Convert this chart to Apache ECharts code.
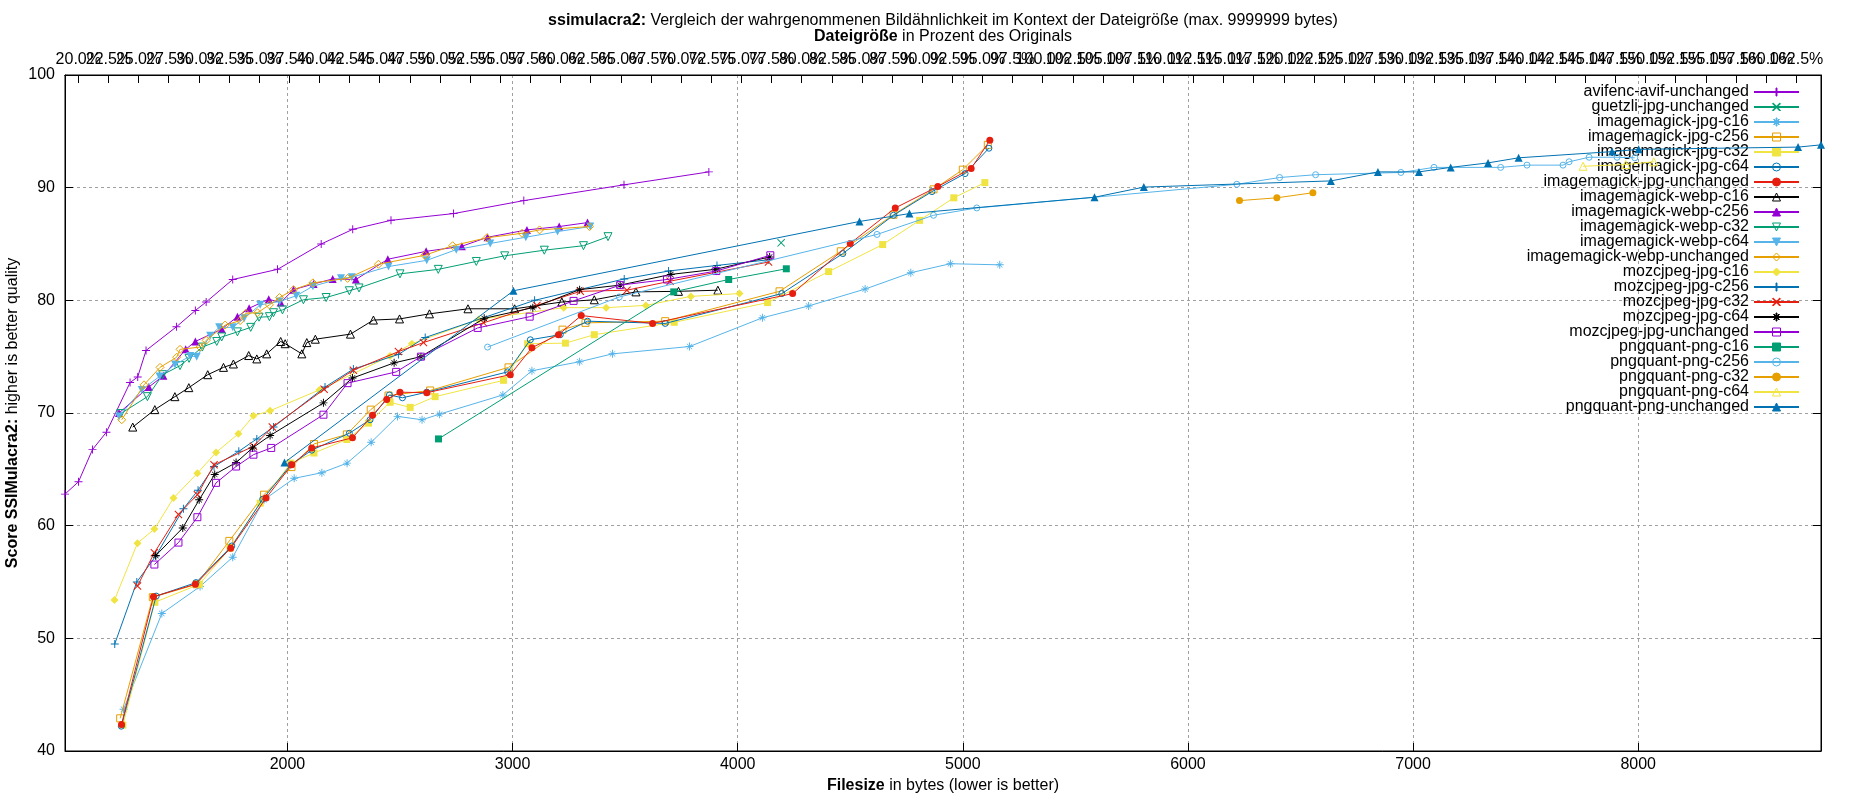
<!DOCTYPE html>
<html>
<head>
<meta charset="utf-8">
<title>ssimulacra2</title>
<script src="https://cdn.jsdelivr.net/npm/echarts@6/dist/echarts.min.js"></script>
<style>
html, body { margin: 0; padding: 0; background: #fff; }
#chart { width: 1850px; height: 800px; }
</style>
</head>
<body>
<div id="chart"></div>
<script>
// axis ranges (bytes) and size used for the percent axis on top
const xMin = 1012;
const xMax = 8812;
const originalSize = 5355;
const yMin = 40, yMax = 100;

const names = [
  'avifenc-avif-unchanged', 'guetzli-jpg-unchanged',
  'imagemagick-jpg-c16', 'imagemagick-jpg-c256', 'imagemagick-jpg-c32', 'imagemagick-jpg-c64', 'imagemagick-jpg-unchanged',
  'imagemagick-webp-c16', 'imagemagick-webp-c256', 'imagemagick-webp-c32', 'imagemagick-webp-c64', 'imagemagick-webp-unchanged',
  'mozcjpeg-jpg-c16', 'mozcjpeg-jpg-c256', 'mozcjpeg-jpg-c32', 'mozcjpeg-jpg-c64', 'mozcjpeg-jpg-unchanged',
  'pngquant-png-c16', 'pngquant-png-c256', 'pngquant-png-c32', 'pngquant-png-c64', 'pngquant-png-unchanged'
];

// filesize (bytes) / score per series
const avifX = [1012, 1072, 1134, 1196, 1301, 1335, 1372, 1507, 1591, 1639, 1757, 1956, 2150, 2290, 2460, 2738, 3050, 3495, 3872];
const avifY = [62.8, 63.9, 66.75, 68.3, 72.7, 73.2, 75.55, 77.65, 79.1, 79.85, 81.85, 82.75, 85.0, 86.3, 87.1, 87.7, 88.85, 90.25, 91.4];

const guetzliX = [4193];
const guetzliY = [85.1];

const jpgC16X = [1272, 1442, 1612, 1757, 1896, 2030, 2153, 2265, 2372, 2489, 2598, 2676, 2957, 3086, 3298, 3444, 3786, 4110, 4315, 4566, 4769, 4945, 5164];
const jpgC16Y = [43.7, 52.2, 54.6, 57.2, 62.3, 64.2, 64.7, 65.55, 67.4, 69.7, 69.4, 69.9, 71.6, 73.75, 74.55, 75.25, 75.9, 78.45, 79.5, 81.0, 82.45, 83.25, 83.15];

const jpgC256X = [1257, 1402, 1597, 1742, 1896, 2018, 2118, 2264, 2370, 2449, 2634, 2982, 3222, 3324, 3678, 4186, 4458, 4692, 4870, 5000, 5111];
const jpgC256Y = [42.9, 53.65, 54.8, 58.65, 62.75, 65.2, 67.25, 68.1, 70.3, 71.55, 72.0, 74.05, 77.4, 78.0, 78.15, 80.8, 84.35, 87.6, 89.85, 91.6, 93.8];

const jpgC32X = [1269, 1411, 1609, 1745, 1879, 2015, 2118, 2264, 2360, 2456, 2545, 2656, 2960, 3067, 3235, 3363, 3718, 4133, 4404, 4644, 4808, 4960, 5098];
const jpgC32Y = [42.3, 53.2, 54.8, 58.0, 62.0, 65.55, 66.45, 67.65, 69.1, 70.95, 70.5, 71.45, 72.9, 76.15, 76.2, 76.95, 78.05, 79.8, 82.55, 84.95, 87.1, 89.1, 90.45];

const jpgC64X = [1262, 1417, 1594, 1753, 1890, 2015, 2108, 2275, 2367, 2453, 2511, 2619, 2978, 3079, 3212, 3333, 3678, 4196, 4467, 4692, 4863, 5010, 5116];
const jpgC64Y = [42.2, 53.75, 54.95, 58.2, 62.35, 65.4, 66.7, 68.2, 69.4, 71.6, 71.35, 71.85, 73.65, 76.5, 76.95, 78.15, 77.95, 80.6, 84.15, 87.55, 89.65, 91.25, 93.5];

const jpgUnchX = [1263, 1405, 1591, 1748, 1905, 2019, 2108, 2289, 2378, 2441, 2500, 2619, 2990, 3086, 3204, 3305, 3622, 4244, 4500, 4700, 4889, 5037, 5120];
const jpgUnchY = [42.35, 53.7, 54.8, 58.0, 62.45, 65.4, 66.9, 67.8, 69.8, 71.2, 71.85, 71.8, 73.4, 75.8, 76.95, 78.65, 77.95, 80.6, 85.05, 88.2, 90.1, 91.7, 94.2];

const webpC16X = [1313, 1411, 1500, 1562, 1646, 1716, 1760, 1828, 1864, 1908, 1970, 1990, 2064, 2086, 2124, 2280, 2382, 2498, 2631, 2802, 3009, 3219, 3363, 3548, 3737, 3912];
const webpC16Y = [68.75, 70.3, 71.45, 72.25, 73.4, 74.05, 74.35, 75.1, 74.8, 75.25, 76.35, 76.15, 75.25, 76.25, 76.55, 77.0, 78.25, 78.35, 78.8, 79.25, 79.25, 79.85, 80.05, 80.75, 80.8, 80.9];

const webpC256X = [1252, 1384, 1449, 1548, 1591, 1708, 1778, 1830, 1917, 1970, 2027, 2116, 2201, 2304, 2446, 2616, 2775, 2889, 3064, 3207, 3333];
const webpC256Y = [70.0, 72.3, 73.3, 75.65, 76.35, 77.45, 78.55, 79.3, 80.1, 79.8, 80.95, 81.45, 81.9, 81.85, 83.65, 84.35, 84.8, 85.6, 86.25, 86.55, 86.9];

const webpC32X = [1260, 1378, 1446, 1523, 1563, 1622, 1686, 1708, 1778, 1837, 1874, 1920, 1938, 1978, 2071, 2172, 2275, 2318, 2500, 2670, 2839, 2965, 3141, 3315, 3424];
const webpC32Y = [69.95, 71.45, 73.4, 74.2, 74.85, 75.85, 76.35, 76.75, 77.2, 77.6, 78.5, 78.55, 78.9, 79.15, 80.05, 80.25, 80.85, 81.1, 82.35, 82.75, 83.45, 83.95, 84.45, 84.85, 85.65];

const webpC64X = [1252, 1353, 1432, 1501, 1568, 1597, 1657, 1697, 1757, 1808, 1879, 1965, 2039, 2113, 2238, 2286, 2449, 2619, 2750, 2901, 3059, 3200, 3345];
const webpC64Y = [69.7, 72.05, 73.25, 74.3, 75.05, 75.0, 76.85, 77.6, 77.6, 78.4, 79.6, 79.9, 80.4, 81.25, 81.95, 82.05, 83.0, 83.55, 84.5, 85.05, 85.6, 86.1, 86.55];

const webpUnchX = [1264, 1363, 1434, 1508, 1523, 1612, 1639, 1723, 1790, 1815, 1867, 1920, 1965, 2027, 2113, 2267, 2404, 2610, 2734, 2886, 3042, 3120, 3342];
const webpUnchY = [69.4, 72.5, 74.05, 74.95, 75.65, 75.85, 76.45, 77.8, 78.2, 78.85, 78.9, 79.6, 80.25, 80.95, 81.55, 81.95, 83.2, 84.0, 84.85, 85.55, 85.95, 86.25, 86.55];

const mozC16X = [1232, 1334, 1409, 1494, 1600, 1683, 1782, 1849, 1923, 2142, 2456, 2553, 2849, 3227, 3416, 3592, 3792, 4008];
const mozC16Y = [53.4, 58.45, 59.7, 62.45, 64.65, 66.5, 68.15, 69.75, 70.2, 72.05, 75.05, 76.15, 78.3, 79.35, 79.35, 79.55, 80.35, 80.6];

const mozC256X = [1233, 1331, 1415, 1538, 1603, 1674, 1784, 1864, 1938, 2167, 2293, 2493, 2612, 3098, 3496, 3693, 3908, 4137];
const mozC256Y = [49.5, 55.0, 57.3, 61.5, 63.15, 65.25, 66.6, 67.7, 68.75, 72.3, 73.9, 75.2, 76.7, 80.0, 81.9, 82.6, 83.1, 83.6];

const mozC32X = [1334, 1409, 1516, 1600, 1674, 1849, 1933, 2163, 2293, 2493, 2604, 2871, 3108, 3301, 3508, 3700, 4137];
const mozC32Y = [54.65, 57.6, 61.0, 62.75, 65.4, 67.05, 68.75, 72.1, 73.8, 75.45, 76.25, 78.0, 79.55, 80.8, 80.9, 81.7, 83.4];

const mozC64X = [1415, 1535, 1608, 1677, 1772, 1845, 1923, 2160, 2289, 2474, 2593, 2874, 3090, 3298, 3478, 3703, 3900, 4142];
const mozC64Y = [57.35, 59.8, 62.3, 64.55, 65.6, 66.9, 68.0, 70.9, 73.1, 74.45, 75.0, 78.4, 79.35, 80.95, 81.35, 82.3, 82.75, 83.85];

const mozUnchX = [1409, 1516, 1600, 1683, 1772, 1849, 1928, 2160, 2267, 2483, 2593, 2845, 3076, 3271, 3478, 3686, 3905, 4145];
const mozUnchY = [56.55, 58.5, 60.75, 63.8, 65.25, 66.3, 66.9, 69.85, 72.65, 73.65, 75.0, 77.55, 78.55, 79.95, 81.35, 81.85, 82.6, 84.0];

const pngC16X = [2671, 3716, 3960, 4216];
const pngC16Y = [67.7, 80.75, 81.85, 82.8];

const pngC256X = [2889, 3474, 4619, 4870, 5062, 6217, 6407, 6567, 6946, 7093, 7389, 7506, 7666, 7693, 7782, 7906, 7985];
const pngC256Y = [75.85, 80.3, 85.85, 87.55, 88.2, 90.3, 90.9, 91.15, 91.35, 91.8, 91.8, 92.0, 92.0, 92.3, 92.7, 92.7, 92.65];

const pngC32X = [6229, 6395, 6555];
const pngC32Y = [88.85, 89.1, 89.55];

const pngC64X = [7755, 7945, 8069];
const pngC64Y = [91.9, 92.05, 92.3];

const pngUnchX = [1987, 3004, 4541, 4763, 5585, 5804, 6635, 6844, 7026, 7167, 7333, 7469, 7884, 8002, 8710, 8812];
const pngUnchY = [65.6, 80.85, 87.0, 87.7, 89.15, 90.05, 90.6, 91.4, 91.4, 91.8, 92.2, 92.65, 93.2, 93.4, 93.6, 93.8];

const xs = [avifX, guetzliX, jpgC16X, jpgC256X, jpgC32X, jpgC64X, jpgUnchX, webpC16X, webpC256X, webpC32X, webpC64X, webpUnchX,
            mozC16X, mozC256X, mozC32X, mozC64X, mozUnchX, pngC16X, pngC256X, pngC32X, pngC64X, pngUnchX];
const ys = [avifY, guetzliY, jpgC16Y, jpgC256Y, jpgC32Y, jpgC64Y, jpgUnchY, webpC16Y, webpC256Y, webpC32Y, webpC64Y, webpUnchY,
            mozC16Y, mozC256Y, mozC32Y, mozC64Y, mozUnchY, pngC16Y, pngC256Y, pngC32Y, pngC64Y, pngUnchY];

// top axis tick labels, percent of original (every 2.5 %)
const pctTicks = [];
for (let p = 20; p <= 162.5; p += 2.5) pctTicks.push(p);
// split in two sets so echarts does not drop overlapping labels
const pctTicksA = pctTicks.filter((p, i) => i % 2 === 0);
const pctTicksB = pctTicks.filter((p, i) => i % 2 === 1);

// gnuplot-like line types
const colors = ['#9400d3', '#009e73', '#56b4e9', '#e69f00', '#f0e442', '#0072b2', '#e51e10', '#000000'];
const pointTypes = ['plus', 'cross', 'star', 'openSquare', 'square', 'openCircle', 'circle', 'openTriangle',
                    'triangle', 'openTriangleDown', 'triangleDown', 'openDiamond', 'diamond'];

const PLUS = 'path://M4.4,0H5.6V4.4H10V5.6H5.6V10H4.4V5.6H0V4.4H4.4Z';
const CROSS = 'path://M0.6,1.4L1.4,0.6L9.4,8.6L8.6,9.4ZM8.6,0.6L9.4,1.4L1.4,9.4L0.6,8.6Z';
const STAR = 'path://M4.4,0H5.6V4.4H10V5.6H5.6V10H4.4V5.6H0V4.4H4.4Z' +
  'M1.3,1.9L1.9,1.3L8.7,8.1L8.1,8.7ZM8.1,1.3L8.7,1.9L1.9,8.7L1.3,8.1Z';

const markers = {
  plus: { symbol: PLUS, size: 8 },
  cross: { symbol: CROSS, size: 8 },
  star: { symbol: STAR, size: 8 },
  openSquare: { symbol: 'rect', size: 7, open: true },
  square: { symbol: 'rect', size: 7 },
  openCircle: { symbol: 'circle', size: 6, open: true },
  circle: { symbol: 'circle', size: 7 },
  openTriangle: { symbol: 'triangle', size: 8, open: true },
  triangle: { symbol: 'triangle', size: 8 },
  openTriangleDown: { symbol: 'triangle', size: 8, open: true, rotate: 180 },
  triangleDown: { symbol: 'triangle', size: 8, rotate: 180 },
  openDiamond: { symbol: 'diamond', size: 8, open: true },
  diamond: { symbol: 'diamond', size: 8 }
};

const font = 'Liberation Sans, Arial, sans-serif';

const series = names.map((name, i) => {
  const color = colors[i % colors.length];
  const mk = markers[pointTypes[i % pointTypes.length]];
  return {
    name: name,
    type: 'line',
    data: xs[i].map((x, j) => [x, ys[i][j]]),
    symbol: mk.symbol,
    symbolSize: mk.size,
    symbolRotate: mk.rotate || 0,
    lineStyle: { color: color, width: 1 },
    itemStyle: mk.open
      ? { color: 'rgba(0,0,0,0)', borderColor: color, borderWidth: 1 }
      : { color: color, borderColor: color, borderWidth: 0 },
    emphasis: { disabled: true },
    z: 2 + i
  };
});

const chart = echarts.init(document.getElementById('chart'), null, { renderer: 'canvas' });

const axisLine = { show: true, onZero: false, lineStyle: { color: '#000', width: 1 } };
const tick = { show: true, inside: true, length: 8, lineStyle: { color: '#000', width: 1 } };
const grid = { show: true, lineStyle: { color: '#a0a0a0', width: 1, type: [3, 3] }, showMinLine: false, showMaxLine: false };

function pctAxis(ticks) {
  return {
    type: 'value', position: 'top', offset: 0,
    min: xMin / originalSize * 100, max: xMax / originalSize * 100,
    axisLine: axisLine,
    axisTick: Object.assign({}, tick, { customValues: ticks }),
    axisLabel: { customValues: ticks, formatter: v => v.toFixed(1) + '%',
                 showMinLabel: true, showMaxLabel: true,
                 color: '#000', fontSize: 16, margin: 7, fontFamily: font, hideOverlap: false },
    splitLine: { show: false }
  };
}

chart.setOption({
  animation: false,
  textStyle: { fontFamily: font },
  grid: {
    left: 65, right: 29, top: 75, bottom: 49,
    show: true, borderColor: '#000', borderWidth: 1,
    containLabel: false, outerBoundsMode: 'none'
  },
  legend: {
    data: names,
    orient: 'vertical',
    right: 45,
    top: 79,
    align: 'right',
    itemWidth: 45,
    itemHeight: 10,
    itemGap: -1,
    selectedMode: false,
    textStyle: { fontSize: 16, color: '#000', fontFamily: font, lineHeight: 15 },
    itemStyle: { borderWidth: 1 }
  },
  xAxis: [
    {
      type: 'value', position: 'bottom', min: xMin, max: xMax,
      minInterval: 1000, maxInterval: 1000,
      axisLine: axisLine, axisTick: tick,
      axisLabel: { showMinLabel: false, showMaxLabel: false, formatter: v => String(v),
                   color: '#000', fontSize: 16, margin: 6, fontFamily: font },
      splitLine: grid
    },
    pctAxis(pctTicksA),
    pctAxis(pctTicksB)
  ],
  yAxis: [
    {
      type: 'value', position: 'left', min: yMin, max: yMax, interval: 10,
      axisLine: axisLine, axisTick: tick,
      axisLabel: { color: '#000', fontSize: 16, margin: 10, fontFamily: font },
      splitLine: grid
    },
    {
      type: 'value', position: 'right', min: yMin, max: yMax, interval: 10,
      axisLine: axisLine, axisTick: tick,
      axisLabel: { show: false }, splitLine: { show: false }
    }
  ],
  graphic: [
    {
      type: 'text', x: 943, y: 21, silent: true,
      style: {
        text: '{b|ssimulacra2:} Vergleich der wahrgenommenen Bildähnlichkeit im Kontext der Dateigröße (max. 9999999 bytes)',
        rich: { b: { fontWeight: 'bold', fontSize: 16, fontFamily: font } },
        fontSize: 16, fontFamily: font, fill: '#000', align: 'center', verticalAlign: 'middle'
      }
    },
    {
      type: 'text', x: 943, y: 37, silent: true,
      style: {
        text: '{b|Dateigröße} in Prozent des Originals',
        rich: { b: { fontWeight: 'bold', fontSize: 16, fontFamily: font } },
        fontSize: 16, fontFamily: font, fill: '#000', align: 'center', verticalAlign: 'middle'
      }
    },
    {
      type: 'text', x: 943, y: 786, silent: true,
      style: {
        text: '{b|Filesize} in bytes (lower is better)',
        rich: { b: { fontWeight: 'bold', fontSize: 16, fontFamily: font } },
        fontSize: 16, fontFamily: font, fill: '#000', align: 'center', verticalAlign: 'middle'
      }
    },
    {
      type: 'text', x: 13, y: 413, rotation: Math.PI / 2, silent: true,
      style: {
        text: '{b|Score SSIMulacra2:} higher is better quality',
        rich: { b: { fontWeight: 'bold', fontSize: 16, fontFamily: font } },
        fontSize: 16, fontFamily: font, fill: '#000', align: 'center', verticalAlign: 'middle'
      }
    }
  ],
  series: series
});
</script>
</body>
</html>
